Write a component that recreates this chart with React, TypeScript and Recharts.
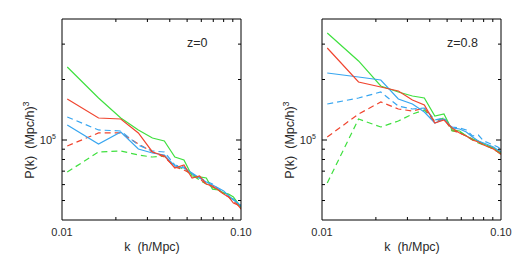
import { LineChart, Line, XAxis, YAxis } from 'recharts'

// k bins (h/Mpc)
const K = [0.0107, 0.016, 0.0213, 0.0267, 0.032, 0.0373, 0.0427, 0.048, 0.0533, 0.0587, 0.064, 0.0693, 0.0747, 0.08, 0.0853, 0.0907, 0.096, 0.1013]

// z = 0
const z0GreenSolid = [230800, 161800, 128700, 112200, 102300, 98900, 82300, 79500, 66200, 65500, 64700, 57000, 56400, 54500, 53900, 52100, 48600, 45400]
const z0RedSolid = [160000, 128700, 127200, 108400, 87200, 83300, 72600, 75100, 64700, 66200, 60400, 59000, 56400, 53900, 52100, 48600, 47500, 44800]
const z0BlueSolid = [118800, 95500, 109600, 90200, 86200, 84200, 74200, 72600, 68500, 64700, 61800, 59700, 57700, 55800, 52700, 50300, 48600, 46400]
const z0BlueDashed = [130200, 112200, 110900, 94400, 88200, 87200, 75100, 73400, 67700, 64700, 62500, 60400, 57000, 55100, 53300, 50900, 48600, 47000]
const z0RedDashed = [93400, 108400, 108400, 95500, 87200, 82300, 73400, 70900, 67700, 64000, 60400, 58400, 56400, 53900, 52100, 49700, 47500, 45900]
const z0GreenDashed = [69300, 87200, 88200, 84200, 82300, 83300, 74200, 71700, 67000, 63200, 60400, 58400, 56400, 54500, 52700, 50300, 48000, 45900]

// z = 0.8
const z08GreenSolid = [340700, 247300, 185700, 173300, 165600, 161800, 131700, 134700, 112200, 110900, 104700, 101200, 98900, 95500, 93400, 91200, 88200, 85200]
const z08RedSolid = [287000, 194400, 183600, 175300, 158100, 149400, 121500, 125800, 114800, 108400, 104700, 100000, 97700, 94400, 92300, 90200, 87200, 84200]
const z08BlueSolid = [215500, 205800, 198900, 160000, 151100, 137800, 121500, 127200, 114800, 113500, 109600, 103500, 98900, 96600, 94400, 92300, 89200, 87200]
const z08BlueDashed = [151100, 161800, 173300, 147600, 142700, 144300, 125800, 128700, 116100, 114800, 112200, 104700, 105900, 98900, 96600, 94400, 92300, 89200]
const z08RedDashed = [103500, 134700, 154600, 142700, 139400, 144300, 122900, 127200, 112200, 108400, 104700, 101200, 97700, 95500, 93400, 91200, 89200, 86200]
const z08GreenDashed = [61100, 127200, 116100, 124300, 134700, 141000, 124300, 128700, 110900, 109600, 104700, 100000, 96600, 94400, 92300, 90200, 87200, 84200]

const X_TICKS = [0.01, 0.02, 0.03, 0.04, 0.05, 0.06, 0.07, 0.08, 0.09, 0.1]
const Y_TICKS = [50000, 60000, 70000, 80000, 90000, 100000, 200000, 300000]

const GREEN = '#3fe03f'
const RED = '#f0452f'
const BLUE = '#38a6f0'
const INK = '#2a2a2a'

function bottomTick(p: any) {
  const v = p.payload.value
  if (v === 0.01 || v === 0.1) {
    return (
      <text x={p.x} y={p.y + 16} textAnchor="middle" fontSize={11} fill={INK}>
        {v === 0.01 ? '0.01' : '0.10'}
      </text>
    )
  }
  return <line x1={p.x} x2={p.x} y1={p.y} y2={p.y - 3} stroke="#000" />
}

function topTick(p: any) {
  const v = p.payload.value
  if (v === 0.01 || v === 0.1) return <g />
  return <line x1={p.x} x2={p.x} y1={p.y} y2={p.y + 3} stroke="#000" />
}

function leftTick(p: any) {
  const major = p.payload.value === 100000
  return (
    <g>
      <line x1={p.x} x2={p.x + (major ? 5 : 3)} y1={p.y} y2={p.y} stroke="#000" />
      {major && (
        <text x={p.x - 6} y={p.y + 4} textAnchor="end" fontSize={11} fill={INK}>
          10<tspan dy={-5} fontSize={7}>5</tspan>
        </text>
      )}
    </g>
  )
}

function rightTick(p: any) {
  const major = p.payload.value === 100000
  return <line x1={p.x} x2={p.x - (major ? 5 : 3)} y1={p.y} y2={p.y} stroke="#000" />
}

interface PanelProps {
  label: string
  greenSolid: number[]
  redSolid: number[]
  blueSolid: number[]
  greenDashed: number[]
  redDashed: number[]
  blueDashed: number[]
}

function Panel(props: PanelProps) {
  const data = K.map((k, i) => ({
    k,
    gs: props.greenSolid[i],
    rs: props.redSolid[i],
    bs: props.blueSolid[i],
    gd: props.greenDashed[i],
    rd: props.redDashed[i],
    bd: props.blueDashed[i],
  }))
  const axisLine = { stroke: '#000', strokeWidth: 1 }
  const line = (key: string, color: string, dashed: boolean) => (
    <Line
      xAxisId="b"
      yAxisId="l"
      dataKey={key}
      stroke={color}
      strokeWidth={1.2}
      strokeDasharray={dashed ? '6 4' : undefined}
      dot={false}
      type="linear"
      isAnimationActive={false}
    />
  )

  return (
    <div style={{ position: 'relative', width: 260, height: 260 }}>
      <LineChart width={260} height={260} data={data} margin={{ top: 0, right: 0, bottom: 0, left: 0 }}>
        <XAxis xAxisId="b" dataKey="k" type="number" scale="log" domain={[0.01, 0.1]} allowDataOverflow
          ticks={X_TICKS} interval={0} height={40} tickSize={0} tickMargin={0} tickLine={false}
          tick={bottomTick} axisLine={axisLine} />
        <XAxis xAxisId="t" orientation="top" dataKey="k" type="number" scale="log" domain={[0.01, 0.1]} allowDataOverflow
          ticks={X_TICKS} interval={0} height={19} tickSize={0} tickMargin={0} tickLine={false}
          tick={topTick} axisLine={axisLine} />
        <YAxis yAxisId="l" type="number" scale="log" domain={[40000, 400000]} allowDataOverflow
          ticks={Y_TICKS} interval={0} width={62} tickSize={0} tickMargin={0} tickLine={false}
          tick={leftTick} axisLine={axisLine} />
        <YAxis yAxisId="r" orientation="right" type="number" scale="log" domain={[40000, 400000]} allowDataOverflow
          ticks={Y_TICKS} interval={0} width={19} tickSize={0} tickMargin={0} tickLine={false}
          tick={rightTick} axisLine={axisLine} />
        {line('gd', GREEN, true)}
        {line('rd', RED, true)}
        {line('bd', BLUE, true)}
        {line('gs', GREEN, false)}
        {line('bs', BLUE, false)}
        {line('rs', RED, false)}
      </LineChart>
      <svg width={260} height={260} style={{ position: 'absolute', left: 0, top: 0, pointerEvents: 'none' }}>
        <text x={30} y={140} transform="rotate(-90 30 140)" textAnchor="middle" dominantBaseline="central"
          fontSize={12.5} fill={INK} style={{ whiteSpace: 'pre' }}>
          P(k)  (Mpc/h)<tspan dy={-4} fontSize={9}>3</tspan>
        </text>
        <text x={152} y={251} textAnchor="middle" fontSize={12.5} fill={INK} style={{ whiteSpace: 'pre' }}>
          k  (h/Mpc)
        </text>
        <text x={187} y={47} fontSize={12.5} fill={INK}>{props.label}</text>
      </svg>
    </div>
  )
}

export default function App() {
  return (
    <div style={{ position: 'absolute', left: 0, top: 0, width: 520, height: 260, background: '#fff', display: 'flex', fontFamily: '"Liberation Sans", Arial, sans-serif' }}>
      <Panel label="z=0" greenSolid={z0GreenSolid} redSolid={z0RedSolid} blueSolid={z0BlueSolid}
        greenDashed={z0GreenDashed} redDashed={z0RedDashed} blueDashed={z0BlueDashed} />
      <Panel label="z=0.8" greenSolid={z08GreenSolid} redSolid={z08RedSolid} blueSolid={z08BlueSolid}
        greenDashed={z08GreenDashed} redDashed={z08RedDashed} blueDashed={z08BlueDashed} />
    </div>
  )
}
